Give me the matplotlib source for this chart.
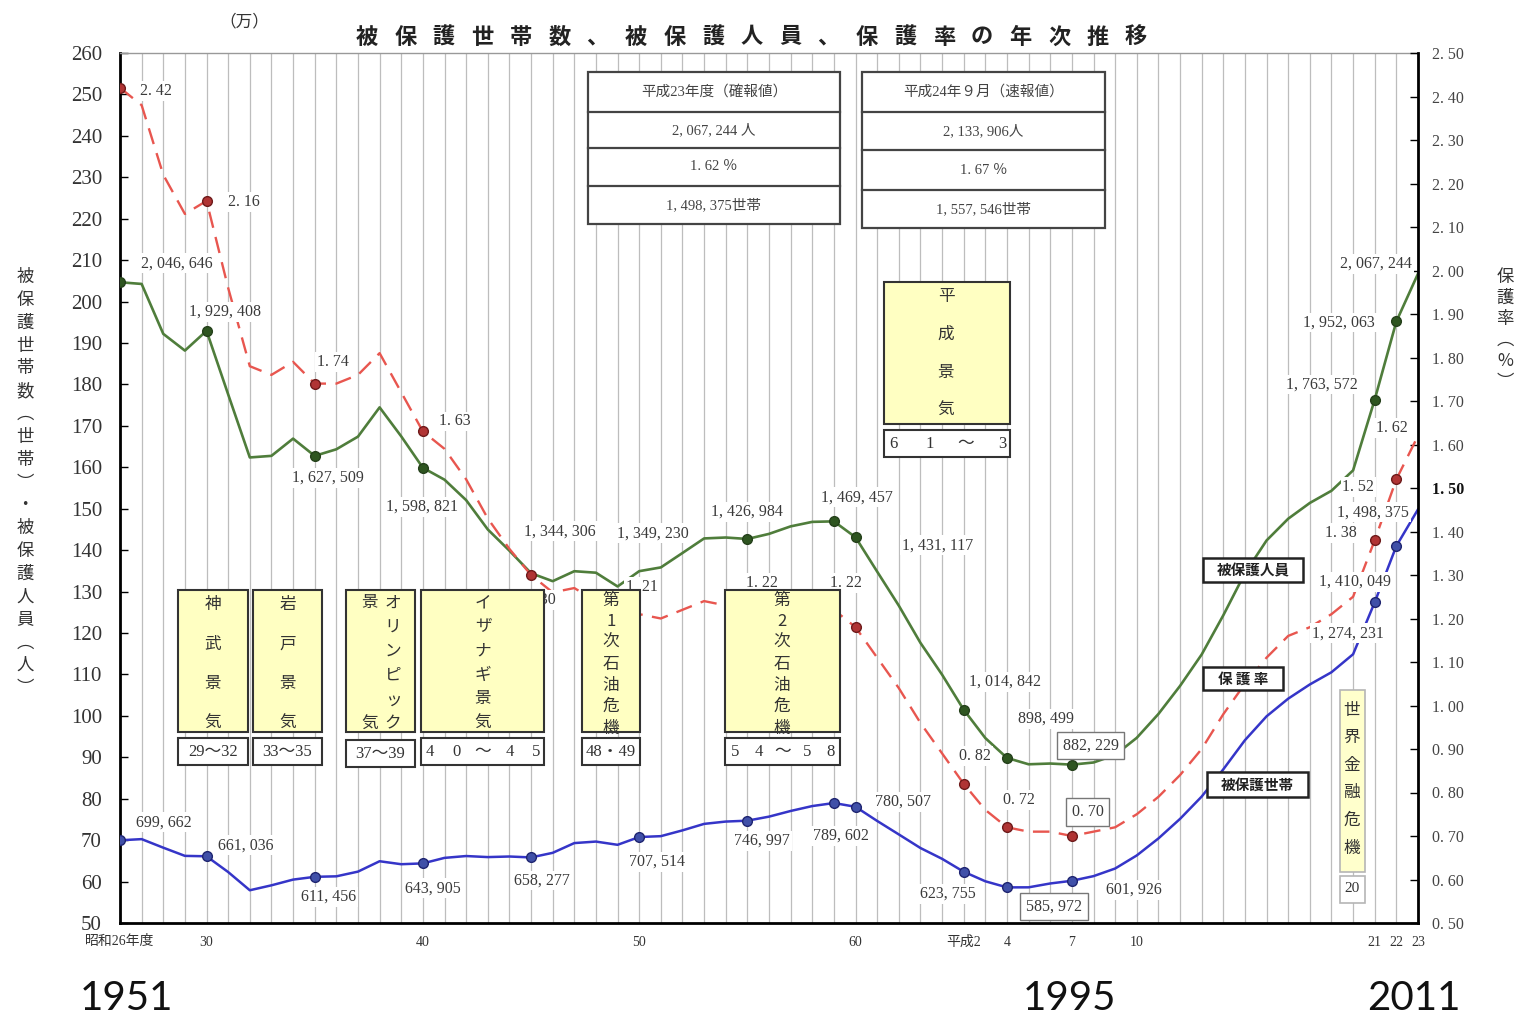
import numpy as np
import matplotlib
matplotlib.use("Agg")
import matplotlib.pyplot as plt
from matplotlib.patches import Rectangle

plt.rcParams["font.family"] = ["Noto Sans CJK JP", "DejaVu Sans"]
SERIF = ["Liberation Serif", "Noto Sans CJK JP"]

# fiscal years 昭和26 (1951) .. 平成23 (2011)
years = np.arange(1951, 2012)

# 被保護人員 (人)
persons = [2046646, 2042550, 1922060, 1881687, 1929408, 1775971, 1623744, 1627571, 1669180, 1627509,
           1643445, 1674001, 1744639, 1674661, 1598821, 1570054, 1520733, 1449970, 1398725, 1344306,
           1325089, 1349144, 1345549, 1312339, 1349230, 1358316, 1393128, 1428261, 1430488, 1426984,
           1439226, 1457383, 1468245, 1469457, 1431117, 1348163, 1266126, 1176258, 1099520, 1014842,
           946374, 898499, 883112, 884912, 882229, 887450, 905589, 946994, 1004472, 1072241,
           1148088, 1242723, 1344327, 1423388, 1475838, 1513892, 1543321, 1592625, 1763572, 1952063,
           2067244]

# 被保護世帯 (世帯)
households = [699662, 702450, 681810, 662037, 661036, 623000, 579037, 590935, 604752, 611456,
              612666, 624012, 649073, 641869, 643905, 657193, 661647, 659096, 660509, 658277,
              669354, 692905, 696540, 688736, 707514, 709613, 723587, 739244, 744841, 746997,
              756726, 770388, 782265, 789602, 780507, 746355, 713825, 681018, 654915, 623755,
              600697, 585972, 586106, 595407, 601926, 613106, 631488, 663060, 704055, 751303,
              805169, 870931, 941270, 998887, 1041508, 1075820, 1105275, 1148766, 1274231, 1410049,
              1498375]

# 保護率 (%)
rate = [2.42, 2.38, 2.22, 2.13, 2.16, 1.96, 1.78, 1.76, 1.79, 1.74,
        1.74, 1.76, 1.81, 1.72, 1.63, 1.59, 1.52, 1.43, 1.36, 1.30,
        1.26, 1.27, 1.24, 1.19, 1.21, 1.20, 1.22, 1.24, 1.23, 1.22,
        1.22, 1.23, 1.23, 1.22, 1.18, 1.11, 1.04, 0.96, 0.89, 0.82,
        0.76, 0.72, 0.71, 0.71, 0.70, 0.71, 0.72, 0.75, 0.79, 0.84,
        0.90, 0.98, 1.05, 1.11, 1.16, 1.18, 1.21, 1.25, 1.38, 1.52,
        1.62]

tick_years = [1951, 1955, 1965, 1975, 1985, 1990, 1992, 1995, 1998, 2009, 2010, 2011]
tick_labels = ["昭和26年度", "30", "40", "50", "60", "平成2", "4", "7", "10", "21", "22", "23"]

persons_marks = [1951, 1955, 1960, 1965, 1980, 1984, 1985, 1990, 1992, 1995, 2009, 2010]
households_marks = [1951, 1955, 1960, 1965, 1970, 1975, 1980, 1984, 1985, 1990, 1992, 1995, 2009, 2010]
rate_marks = [1951, 1955, 1960, 1965, 1970, 1985, 1990, 1992, 1995, 2009, 2010]

# (year, dx, dy) : label offset from the point in pixels (dy downward)
persons_labels = [(1951, 57, -19), (1955, 18, -19), (1960, 13, 22), (1965, -1, 39),
                  (1970, 29, -42), (1975, 14, -38), (1980, 0, -27), (1984, 23, -24),
                  (1985, 82, 8), (1990, 41, -28), (1992, 39, -39), (1995, 19, -19),
                  (2009, -53, -15), (2010, -57, 1), (2011, -42, -10)]
households_labels = [(1951, 44, -18), (1955, 39, -11), (1960, 14, 20), (1965, 10, 25),
                     (1970, 11, 23), (1975, 18, 25), (1980, 15, 20), (1984, 7, 33),
                     (1985, 47, -5), (1990, -16, 22), (1992, 47, 19), (1995, 62, 9),
                     (2009, -27, 31), (2010, -41, 36), (2011, -45, 3)]
rate_labels = [(1951, 36, 3), (1955, 37, 1), (1960, 18, -22), (1965, 32, -10),
               (1970, 9, 25), (1975, 3, -27), (1980, 15, -27), (1984, 12, -27),
               (1990, 11, -28), (1992, 12, -27), (1995, 16, -24),
               (2009, -34, -7), (2010, -38, 8), (2011, -26, -8)]
boxed_labels = [("p", 1995), ("r", 1995), ("h", 1992)]

# 平成24年9月 速報値
latest_persons = 2133906
latest_rate = 1.67
latest_households = 1557546

W, H = 1528, 1023
fig = plt.figure(figsize=(W / 100, H / 100), dpi=100)
ax = fig.add_axes([120 / W, 100 / H, 1298 / W, 870 / H])
ax2 = ax.twinx()

p = np.array(persons) / 1e4
h = np.array(households) / 1e4


def idx(ys):
    return [int(y - 1951) for y in ys]


GREEN, RED, BLUE = "#4f7d3b", "#e8564f", "#3535c8"
ax.plot(years, p, color=GREEN, lw=1.9, marker="o", markevery=idx(persons_marks),
        ms=7, mfc="#2e5520", mec="#24401a", zorder=3)
ax.plot(years, h, color=BLUE, lw=1.8, marker="o", markevery=idx(households_marks),
        ms=7, mfc="#4050a8", mec="#1e2470", zorder=3)
ax2.plot(years, rate, color=RED, lw=1.7, dashes=(7, 4), marker="o", markevery=idx(rate_marks),
         ms=7, mfc="#b03434", mec="#6e1a1a", zorder=2)

ax.set_xlim(1951, 2011)
ax.set_ylim(50, 260)
ax2.set_ylim(0.5, 2.5)

ax.set_xticks(tick_years)
ax.set_xticklabels(tick_labels)
ax.set_xticks(years, minor=True)
ax.tick_params(axis="x", which="both", length=0, pad=9, labelsize=10, colors="#333")
ax.grid(True, axis="x", which="both", color="#bdbdbd", lw=0.9)
ax.set_axisbelow(True)

ax.set_yticks(np.arange(50, 261, 10))
ax.tick_params(axis="y", direction="in", length=6, width=1, pad=13, labelsize=15, labelcolor="#333")
rticks = np.arange(0.5, 2.501, 0.1)
ax2.set_yticks(rticks)
ax2.set_yticklabels([f"{v:.2f}".replace(".", ". ") for v in rticks])
ax2.tick_params(axis="y", direction="in", length=6, width=1, pad=10, labelsize=11.5, labelcolor="#444")
for lab in ax.get_xticklabels() + ax.get_yticklabels() + ax2.get_yticklabels():
    lab.set_family(SERIF)
for lab in ax2.get_yticklabels():
    if lab.get_text() == "1. 50":
        lab.set_fontweight("bold")
        lab.set_color("#111")

for s in ["left", "bottom"]:
    ax.spines[s].set_linewidth(2)
ax.spines["top"].set_color("#999")
ax.spines["top"].set_linewidth(1)
ax.spines["right"].set_visible(False)
for s in ["left", "bottom", "top"]:
    ax2.spines[s].set_visible(False)
ax2.spines["right"].set_linewidth(2)


def num(v):
    return f"{v:,}".replace(",", ", ")


def pct(v):
    return f"{v:.2f}".replace(".", ". ")


plain = dict(boxstyle="square,pad=0.12", fc="white", ec="none")
boxed = dict(boxstyle="square,pad=0.35", fc="white", ec="#777", lw=1)


def put_labels(key, labels, values, plotted, trans, fmt):
    for yr, dx, dy in labels:
        i = yr - 1951
        ax2.annotate(fmt(values[i]), xy=(yr, plotted[i]), xycoords=trans,
                     xytext=(dx, -dy), textcoords="offset pixels", ha="center", va="center",
                     fontsize=11.5, family=SERIF, color="#3a3a3a",
                     bbox=boxed if (key, yr) in boxed_labels else plain, zorder=5)


put_labels("p", persons_labels, persons, p, ax.transData, num)
put_labels("h", households_labels, households, h, ax.transData, num)
put_labels("r", rate_labels, rate, rate, ax2.transData, pct)

# overlay in pixel coordinates for boxes and titles
ov = fig.add_axes([0, 0, 1, 1])
ov.set_xlim(0, W)
ov.set_ylim(H, 0)
ov.axis("off")


def rect(x0, x1, y0, y1, fc="white", ec="#333", lw=1.5):
    ov.add_patch(Rectangle((x0, y0), x1 - x0, y1 - y0, fc=fc, ec=ec, lw=lw))


def vcol(x, y0, y1, chars, size=11.5, **kw):
    for c, y in zip(chars, np.linspace(y0, y1, len(chars))):
        ov.text(x, y, c, ha="center", va="center", fontsize=size, color="#333", **kw)


def hspread(x0, x1, y, chars, size=11.5):
    for c, x in zip(chars, np.linspace(x0, x1, len(chars))):
        ov.text(x, y, c, ha="center", va="center", fontsize=size, family=SERIF, color="#333")


YEL = "#ffffc2"
boom_boxes = [(178, 248, 590, 732), (253, 322, 590, 732), (346, 415, 590, 732),
              (421, 544, 590, 732), (582, 640, 590, 732), (725, 840, 590, 732),
              (884, 1010, 282, 424)]
for x0, x1, y0, y1 in boom_boxes:
    rect(x0, x1, y0, y1, fc=YEL)
rect(1340, 1365, 690, 872, fc="#ffffcc", ec="#b5b5b5", lw=1.2)

boom_cols = [(213, 605, 723, "神武景気"), (288, 605, 723, "岩戸景気"),
             (393, 603, 724, "オリンピック"), (370, 603, 724, "景気"),
             (483, 603, 723, "イザナギ景気"), (611, 600, 728, "第1次石油危機"),
             (782, 600, 728, "第2次石油危機"), (946, 297, 410, "平成景気"),
             (1352, 710, 848, "世界金融危機")]
for x, y0, y1, chars in boom_cols:
    vcol(x, y0, y1, chars, size=12)

period_boxes = [(178, 248, 738, 765, "29～32"), (253, 322, 738, 765, "33～35"),
                (346, 415, 740, 767, "37～39"), (582, 640, 738, 765, "48・49")]
for x0, x1, y0, y1, t in period_boxes:
    rect(x0, x1, y0, y1)
    ov.text((x0 + x1) / 2, (y0 + y1) / 2, t, ha="center", va="center", fontsize=12,
            family=SERIF, color="#333")
rect(421, 544, 738, 765)
hspread(430, 536, 752, "40～45", 12)
rect(725, 840, 738, 765)
hspread(735, 831, 752, "54～58", 12)
rect(884, 1010, 430, 457)
hspread(893, 1002, 444, "61～3", 12)
rect(1340, 1365, 876, 903, ec="#b5b5b5", lw=1.2)
ov.text(1352, 889, "20", ha="center", va="center", fontsize=11, family=SERIF, color="#333")

# series name boxes
for x0, x1, y0, y1, t in [(1203, 1303, 558, 582, "被保護人員"), (1203, 1283, 667, 690, "保 護 率"),
                          (1207, 1308, 772, 797, "被保護世帯")]:
    rect(x0, x1, y0, y1, ec="#222", lw=1.8)
    ov.text((x0 + x1) / 2, (y0 + y1) / 2, t, ha="center", va="center", fontsize=10.5,
            fontweight="bold", color="#222")

# summary tables
tables = [
    (588, 840, [72, 112, 148, 186, 224],
     ["平成23年度（確報値）", f"{num(persons[-1])} 人", f"{pct(rate[-1])} ％", f"{num(households[-1])}世帯"]),
    (862, 1105, [72, 112, 150, 190, 228],
     ["平成24年９月（速報値）", f"{num(latest_persons)}人", f"{pct(latest_rate)} ％", f"{num(latest_households)}世帯"]),
]
for x0, x1, rows, texts in tables:
    rect(x0, x1, rows[0], rows[-1], ec="#444", lw=1.6)
    for r in rows[1:-1]:
        ov.plot([x0, x1], [r, r], color="#444", lw=1.6)
    for t, a, b in zip(texts, rows[:-1], rows[1:]):
        ov.text((x0 + x1) / 2, (a + b) / 2, t, ha="center", va="center", fontsize=10.5,
                family=SERIF, color="#444")

# title
title = "被保護世帯数、被保護人員、保護率の年次推移"
for c, x in zip(title, np.linspace(367, 1136, len(title))):
    ov.text(x, 37, c, ha="center", va="center", fontsize=16, fontweight="bold", color="#222")
ov.text(244, 22, "（万）", ha="center", va="center", fontsize=12, color="#333")

# axis titles (vertical writing)
vcol(25, 277, 688, "被保護世帯数︵世帯︶・被保護人員︵人︶", size=12.5)
vcol(1505, 277, 382, "保護率︵%︶", size=12.5)

# western years under the axis
for x, t in [(126, "1951"), (1069, "1995"), (1414, "2011")]:
    ov.text(x, 999, t, ha="center", va="center", fontsize=29, family=["Lato", "DejaVu Sans"],
            color="#111")

fig.savefig("out.png", dpi=100)
